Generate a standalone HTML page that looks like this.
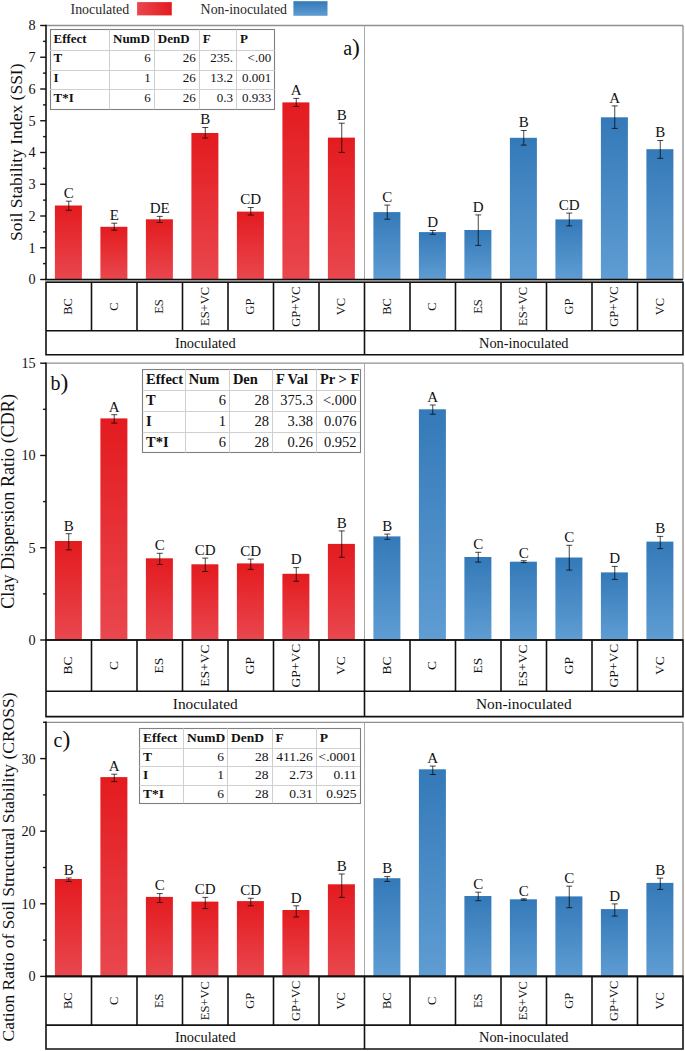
<!DOCTYPE html><html><head><meta charset="utf-8"><style>html,body{margin:0;padding:0;background:#fff;width:685px;height:1051px;overflow:hidden}svg{display:block}text{font-family:'Liberation Serif',serif;fill:#111}</style></head><body>
<svg width="685" height="1051" viewBox="0 0 685 1051">
<defs><linearGradient id="gr" x1="0" y1="0" x2="0" y2="1"><stop offset="0" stop-color="#E31B1F"/><stop offset="1" stop-color="#E9474E"/></linearGradient><linearGradient id="gb" x1="0" y1="0" x2="0" y2="1"><stop offset="0" stop-color="#3479B8"/><stop offset="1" stop-color="#5F9DD3"/></linearGradient><linearGradient id="grh" x1="0" y1="0" x2="1" y2="0"><stop offset="0" stop-color="#E9474E"/><stop offset="1" stop-color="#E31B1F"/></linearGradient></defs>
<rect width="685" height="1051" fill="#fff"/>
<text x="70.5" y="14" font-size="13.9" style="fill:#2a2a2a">Inoculated</text>
<rect x="137.1" y="2.1" width="34.7" height="13.3" fill="url(#grh)"/>
<text x="200.6" y="14" font-size="13.9" style="fill:#2a2a2a">Non-inoculated</text>
<rect x="293.4" y="1.2" width="34.1" height="14.6" fill="url(#gb)"/>
<line x1="46.0" y1="25.5" x2="683.0" y2="25.5" stroke="#8f8f8f" stroke-width="1.3"/>
<line x1="683.0" y1="25.5" x2="683.0" y2="279.5" stroke="#8f8f8f" stroke-width="1.3"/>
<line x1="364.5" y1="25.5" x2="364.5" y2="279.5" stroke="#aaaaaa" stroke-width="1"/>
<rect x="54.9" y="205.5" width="27.0" height="74" fill="url(#gr)"/>
<rect x="100.4" y="226.8" width="27.0" height="52.7" fill="url(#gr)"/>
<rect x="145.9" y="219.3" width="27.0" height="60.2" fill="url(#gr)"/>
<rect x="191.4" y="133" width="27.0" height="146.5" fill="url(#gr)"/>
<rect x="236.9" y="211.6" width="27.0" height="67.9" fill="url(#gr)"/>
<rect x="282.4" y="102.4" width="27.0" height="177.1" fill="url(#gr)"/>
<rect x="327.9" y="137.6" width="27.0" height="141.9" fill="url(#gr)"/>
<rect x="373.4" y="212.1" width="27.0" height="67.4" fill="url(#gb)"/>
<rect x="418.9" y="232.1" width="27.0" height="47.4" fill="url(#gb)"/>
<rect x="464.4" y="230" width="27.0" height="49.5" fill="url(#gb)"/>
<rect x="509.9" y="137.8" width="27.0" height="141.7" fill="url(#gb)"/>
<rect x="555.4" y="219.4" width="27.0" height="60.1" fill="url(#gb)"/>
<rect x="600.9" y="117.3" width="27.0" height="162.2" fill="url(#gb)"/>
<rect x="646.4" y="149.2" width="27.0" height="130.3" fill="url(#gb)"/>
<path d="M68.75 201.2V210.3M65.75 201.2H71.75M65.75 210.3H71.75" stroke="#000" stroke-opacity="0.72" stroke-width="1" fill="none"/>
<text x="68.75" y="198" font-size="15" text-anchor="middle">C</text>
<path d="M114.25 223.2V230.2M111.25 223.2H117.25M111.25 230.2H117.25" stroke="#000" stroke-opacity="0.72" stroke-width="1" fill="none"/>
<text x="114.25" y="220" font-size="15" text-anchor="middle">E</text>
<path d="M159.75 216.4V222.5M156.75 216.4H162.75M156.75 222.5H162.75" stroke="#000" stroke-opacity="0.72" stroke-width="1" fill="none"/>
<text x="159.75" y="213.2" font-size="15" text-anchor="middle">DE</text>
<path d="M205.25 127.5V138M202.25 127.5H208.25M202.25 138H208.25" stroke="#000" stroke-opacity="0.72" stroke-width="1" fill="none"/>
<text x="205.25" y="124.3" font-size="15" text-anchor="middle">B</text>
<path d="M250.75 207.5V215M247.75 207.5H253.75M247.75 215H253.75" stroke="#000" stroke-opacity="0.72" stroke-width="1" fill="none"/>
<text x="250.75" y="204.3" font-size="15" text-anchor="middle">CD</text>
<path d="M296.25 98.4V106.5M293.25 98.4H299.25M293.25 106.5H299.25" stroke="#000" stroke-opacity="0.72" stroke-width="1" fill="none"/>
<text x="296.25" y="95.2" font-size="15" text-anchor="middle">A</text>
<path d="M341.75 123.2V152.4M338.75 123.2H344.75M338.75 152.4H344.75" stroke="#000" stroke-opacity="0.72" stroke-width="1" fill="none"/>
<text x="341.75" y="120" font-size="15" text-anchor="middle">B</text>
<path d="M387.25 205.1V219.2M384.25 205.1H390.25M384.25 219.2H390.25" stroke="#000" stroke-opacity="0.72" stroke-width="1" fill="none"/>
<text x="387.25" y="201.9" font-size="15" text-anchor="middle">C</text>
<path d="M432.75 230.5V234.3M429.75 230.5H435.75M429.75 234.3H435.75" stroke="#000" stroke-opacity="0.72" stroke-width="1" fill="none"/>
<text x="432.75" y="227.3" font-size="15" text-anchor="middle">D</text>
<path d="M478.25 214.9V245.4M475.25 214.9H481.25M475.25 245.4H481.25" stroke="#000" stroke-opacity="0.72" stroke-width="1" fill="none"/>
<text x="478.25" y="211.7" font-size="15" text-anchor="middle">D</text>
<path d="M523.75 130.5V145.1M520.75 130.5H526.75M520.75 145.1H526.75" stroke="#000" stroke-opacity="0.72" stroke-width="1" fill="none"/>
<text x="523.75" y="127.3" font-size="15" text-anchor="middle">B</text>
<path d="M569.25 213.1V225.9M566.25 213.1H572.25M566.25 225.9H572.25" stroke="#000" stroke-opacity="0.72" stroke-width="1" fill="none"/>
<text x="569.25" y="209.9" font-size="15" text-anchor="middle">CD</text>
<path d="M614.75 105.9V128.4M611.75 105.9H617.75M611.75 128.4H617.75" stroke="#000" stroke-opacity="0.72" stroke-width="1" fill="none"/>
<text x="614.75" y="102.7" font-size="15" text-anchor="middle">A</text>
<path d="M660.25 140.5V158.3M657.25 140.5H663.25M657.25 158.3H663.25" stroke="#000" stroke-opacity="0.72" stroke-width="1" fill="none"/>
<text x="660.25" y="137.3" font-size="15" text-anchor="middle">B</text>
<line x1="46.0" y1="24.8" x2="46.0" y2="280.2" stroke="#111" stroke-width="1.6"/>
<line x1="40.2" y1="279.5" x2="46.0" y2="279.5" stroke="#111" stroke-width="1.4"/>
<text x="35.6" y="284.4" font-size="14.2" text-anchor="end">0</text>
<line x1="40.2" y1="247.75" x2="46.0" y2="247.75" stroke="#111" stroke-width="1.4"/>
<text x="35.6" y="252.65" font-size="14.2" text-anchor="end">1</text>
<line x1="40.2" y1="216" x2="46.0" y2="216" stroke="#111" stroke-width="1.4"/>
<text x="35.6" y="220.9" font-size="14.2" text-anchor="end">2</text>
<line x1="40.2" y1="184.25" x2="46.0" y2="184.25" stroke="#111" stroke-width="1.4"/>
<text x="35.6" y="189.15" font-size="14.2" text-anchor="end">3</text>
<line x1="40.2" y1="152.5" x2="46.0" y2="152.5" stroke="#111" stroke-width="1.4"/>
<text x="35.6" y="157.4" font-size="14.2" text-anchor="end">4</text>
<line x1="40.2" y1="120.75" x2="46.0" y2="120.75" stroke="#111" stroke-width="1.4"/>
<text x="35.6" y="125.65" font-size="14.2" text-anchor="end">5</text>
<line x1="40.2" y1="89" x2="46.0" y2="89" stroke="#111" stroke-width="1.4"/>
<text x="35.6" y="93.9" font-size="14.2" text-anchor="end">6</text>
<line x1="40.2" y1="57.25" x2="46.0" y2="57.25" stroke="#111" stroke-width="1.4"/>
<text x="35.6" y="62.15" font-size="14.2" text-anchor="end">7</text>
<line x1="40.2" y1="25.5" x2="46.0" y2="25.5" stroke="#111" stroke-width="1.4"/>
<text x="35.6" y="30.4" font-size="14.2" text-anchor="end">8</text>
<line x1="43.1" y1="263.62" x2="46.0" y2="263.62" stroke="#111" stroke-width="1.4"/>
<line x1="43.1" y1="231.88" x2="46.0" y2="231.88" stroke="#111" stroke-width="1.4"/>
<line x1="43.1" y1="200.12" x2="46.0" y2="200.12" stroke="#111" stroke-width="1.4"/>
<line x1="43.1" y1="168.38" x2="46.0" y2="168.38" stroke="#111" stroke-width="1.4"/>
<line x1="43.1" y1="136.62" x2="46.0" y2="136.62" stroke="#111" stroke-width="1.4"/>
<line x1="43.1" y1="104.88" x2="46.0" y2="104.88" stroke="#111" stroke-width="1.4"/>
<line x1="43.1" y1="73.12" x2="46.0" y2="73.12" stroke="#111" stroke-width="1.4"/>
<line x1="43.1" y1="41.38" x2="46.0" y2="41.38" stroke="#111" stroke-width="1.4"/>
<text transform="translate(22.2 152.2) rotate(-90)" x="0" y="0" font-size="17.5" text-anchor="middle">Soil Stability Index (SSI)</text>
<text x="343.2" y="55.2" font-size="20">a<tspan font-size="23.5">)</tspan></text>
<rect x="46.0" y="279.9" width="637.0" height="2.0999999999999885" fill="#bdbdbd"/>
<line x1="45.2" y1="279.5" x2="683.0" y2="279.5" stroke="#111" stroke-width="1.6"/>
<path d="M46.0 282.2H683.0V354.7H46.0Z" fill="none" stroke="#111" stroke-width="1.6"/>
<line x1="46.0" y1="330.8" x2="683.0" y2="330.8" stroke="#111" stroke-width="1.6"/>
<line x1="91.5" y1="282.2" x2="91.5" y2="330.8" stroke="#111" stroke-width="1.6"/>
<line x1="137" y1="282.2" x2="137" y2="330.8" stroke="#111" stroke-width="1.6"/>
<line x1="182.5" y1="282.2" x2="182.5" y2="330.8" stroke="#111" stroke-width="1.6"/>
<line x1="228" y1="282.2" x2="228" y2="330.8" stroke="#111" stroke-width="1.6"/>
<line x1="273.5" y1="282.2" x2="273.5" y2="330.8" stroke="#111" stroke-width="1.6"/>
<line x1="319" y1="282.2" x2="319" y2="330.8" stroke="#111" stroke-width="1.6"/>
<line x1="364.5" y1="282.2" x2="364.5" y2="354.7" stroke="#111" stroke-width="1.6"/>
<line x1="410" y1="282.2" x2="410" y2="330.8" stroke="#111" stroke-width="1.6"/>
<line x1="455.5" y1="282.2" x2="455.5" y2="330.8" stroke="#111" stroke-width="1.6"/>
<line x1="501" y1="282.2" x2="501" y2="330.8" stroke="#111" stroke-width="1.6"/>
<line x1="546.5" y1="282.2" x2="546.5" y2="330.8" stroke="#111" stroke-width="1.6"/>
<line x1="592" y1="282.2" x2="592" y2="330.8" stroke="#111" stroke-width="1.6"/>
<line x1="637.5" y1="282.2" x2="637.5" y2="330.8" stroke="#111" stroke-width="1.6"/>
<text transform="translate(72.45 306.5) rotate(-90)" font-size="12.5" text-anchor="middle">BC</text>
<text transform="translate(117.95 306.5) rotate(-90)" font-size="12.5" text-anchor="middle">C</text>
<text transform="translate(163.45 306.5) rotate(-90)" font-size="12.5" text-anchor="middle">ES</text>
<text transform="translate(208.95 306.5) rotate(-90)" font-size="12.5" text-anchor="middle">ES+VC</text>
<text transform="translate(254.45 306.5) rotate(-90)" font-size="12.5" text-anchor="middle">GP</text>
<text transform="translate(299.95 306.5) rotate(-90)" font-size="12.5" text-anchor="middle">GP+VC</text>
<text transform="translate(345.45 306.5) rotate(-90)" font-size="12.5" text-anchor="middle">VC</text>
<text transform="translate(390.95 306.5) rotate(-90)" font-size="12.5" text-anchor="middle">BC</text>
<text transform="translate(436.45 306.5) rotate(-90)" font-size="12.5" text-anchor="middle">C</text>
<text transform="translate(481.95 306.5) rotate(-90)" font-size="12.5" text-anchor="middle">ES</text>
<text transform="translate(527.45 306.5) rotate(-90)" font-size="12.5" text-anchor="middle">ES+VC</text>
<text transform="translate(572.95 306.5) rotate(-90)" font-size="12.5" text-anchor="middle">GP</text>
<text transform="translate(618.45 306.5) rotate(-90)" font-size="12.5" text-anchor="middle">GP+VC</text>
<text transform="translate(663.95 306.5) rotate(-90)" font-size="12.5" text-anchor="middle">VC</text>
<text x="205.25" y="347.6" font-size="14.4" text-anchor="middle">Inoculated</text>
<text x="523.75" y="347.6" font-size="14.4" text-anchor="middle">Non-inoculated</text>
<rect x="50.5" y="29.5" width="224.0" height="80.0" fill="#fff" stroke="#808080" stroke-width="1.1"/>
<line x1="50.0" y1="50.5" x2="274.7" y2="50.5" stroke="#cfcfcf" stroke-width="1"/>
<line x1="50.0" y1="70.5" x2="274.7" y2="70.5" stroke="#cfcfcf" stroke-width="1"/>
<line x1="50.0" y1="89.5" x2="274.7" y2="89.5" stroke="#cfcfcf" stroke-width="1"/>
<line x1="109.5" y1="29.5" x2="109.5" y2="109.3" stroke="#cfcfcf" stroke-width="1"/>
<line x1="154.5" y1="29.5" x2="154.5" y2="109.3" stroke="#cfcfcf" stroke-width="1"/>
<line x1="199.5" y1="29.5" x2="199.5" y2="109.3" stroke="#cfcfcf" stroke-width="1"/>
<line x1="236.5" y1="29.5" x2="236.5" y2="109.3" stroke="#cfcfcf" stroke-width="1"/>
<text x="53.5" y="42.9" font-size="13" font-weight="bold">Effect</text>
<text x="113" y="42.9" font-size="13" font-weight="bold">NumD</text>
<text x="157.8" y="42.9" font-size="13" font-weight="bold">DenD</text>
<text x="202.8" y="42.9" font-size="13" font-weight="bold">F</text>
<text x="239.9" y="42.9" font-size="13" font-weight="bold">P</text>
<text x="53.5" y="62.3" font-size="13" font-weight="bold">T</text>
<text x="150.8" y="62.3" font-size="13" text-anchor="end">6</text>
<text x="195.8" y="62.3" font-size="13" text-anchor="end">26</text>
<text x="232.9" y="62.3" font-size="13" text-anchor="end">235.</text>
<text x="271.2" y="62.3" font-size="13" text-anchor="end">&lt;.00</text>
<text x="53.5" y="81.9" font-size="13" font-weight="bold">I</text>
<text x="150.8" y="81.9" font-size="13" text-anchor="end">1</text>
<text x="195.8" y="81.9" font-size="13" text-anchor="end">26</text>
<text x="232.9" y="81.9" font-size="13" text-anchor="end">13.2</text>
<text x="271.2" y="81.9" font-size="13" text-anchor="end">0.001</text>
<text x="53.5" y="101.6" font-size="13" font-weight="bold">T*I</text>
<text x="150.8" y="101.6" font-size="13" text-anchor="end">6</text>
<text x="195.8" y="101.6" font-size="13" text-anchor="end">26</text>
<text x="232.9" y="101.6" font-size="13" text-anchor="end">0.3</text>
<text x="271.2" y="101.6" font-size="13" text-anchor="end">0.933</text>
<line x1="46.0" y1="363.2" x2="683.0" y2="363.2" stroke="#8f8f8f" stroke-width="1.3"/>
<line x1="683.0" y1="363.2" x2="683.0" y2="640.0" stroke="#8f8f8f" stroke-width="1.3"/>
<line x1="364.5" y1="363.2" x2="364.5" y2="640.0" stroke="#aaaaaa" stroke-width="1"/>
<rect x="54.9" y="541" width="27.0" height="99" fill="url(#gr)"/>
<rect x="100.4" y="418.4" width="27.0" height="221.6" fill="url(#gr)"/>
<rect x="145.9" y="558.3" width="27.0" height="81.7" fill="url(#gr)"/>
<rect x="191.4" y="564.3" width="27.0" height="75.7" fill="url(#gr)"/>
<rect x="236.9" y="563.4" width="27.0" height="76.6" fill="url(#gr)"/>
<rect x="282.4" y="573.8" width="27.0" height="66.2" fill="url(#gr)"/>
<rect x="327.9" y="543.9" width="27.0" height="96.1" fill="url(#gr)"/>
<rect x="373.4" y="536.4" width="27.0" height="103.6" fill="url(#gb)"/>
<rect x="418.9" y="409.3" width="27.0" height="230.7" fill="url(#gb)"/>
<rect x="464.4" y="557" width="27.0" height="83" fill="url(#gb)"/>
<rect x="509.9" y="561.7" width="27.0" height="78.3" fill="url(#gb)"/>
<rect x="555.4" y="557.5" width="27.0" height="82.5" fill="url(#gb)"/>
<rect x="600.9" y="572.4" width="27.0" height="67.6" fill="url(#gb)"/>
<rect x="646.4" y="541.6" width="27.0" height="98.4" fill="url(#gb)"/>
<path d="M68.75 533.7V549.9M65.75 533.7H71.75M65.75 549.9H71.75" stroke="#000" stroke-opacity="0.72" stroke-width="1" fill="none"/>
<text x="68.75" y="530.5" font-size="15" text-anchor="middle">B</text>
<path d="M114.25 414.7V423.1M111.25 414.7H117.25M111.25 423.1H117.25" stroke="#000" stroke-opacity="0.72" stroke-width="1" fill="none"/>
<text x="114.25" y="411.5" font-size="15" text-anchor="middle">A</text>
<path d="M159.75 553.3V564.5M156.75 553.3H162.75M156.75 564.5H162.75" stroke="#000" stroke-opacity="0.72" stroke-width="1" fill="none"/>
<text x="159.75" y="550.1" font-size="15" text-anchor="middle">C</text>
<path d="M205.25 558.1V571.5M202.25 558.1H208.25M202.25 571.5H208.25" stroke="#000" stroke-opacity="0.72" stroke-width="1" fill="none"/>
<text x="205.25" y="554.9" font-size="15" text-anchor="middle">CD</text>
<path d="M250.75 559.1V569.4M247.75 559.1H253.75M247.75 569.4H253.75" stroke="#000" stroke-opacity="0.72" stroke-width="1" fill="none"/>
<text x="250.75" y="555.9" font-size="15" text-anchor="middle">CD</text>
<path d="M296.25 567.6V581.3M293.25 567.6H299.25M293.25 581.3H299.25" stroke="#000" stroke-opacity="0.72" stroke-width="1" fill="none"/>
<text x="296.25" y="564.4" font-size="15" text-anchor="middle">D</text>
<path d="M341.75 530.9V557.3M338.75 530.9H344.75M338.75 557.3H344.75" stroke="#000" stroke-opacity="0.72" stroke-width="1" fill="none"/>
<text x="341.75" y="527.7" font-size="15" text-anchor="middle">B</text>
<path d="M387.25 534.1V539.3M384.25 534.1H390.25M384.25 539.3H390.25" stroke="#000" stroke-opacity="0.72" stroke-width="1" fill="none"/>
<text x="387.25" y="530.9" font-size="15" text-anchor="middle">B</text>
<path d="M432.75 405V414.2M429.75 405H435.75M429.75 414.2H435.75" stroke="#000" stroke-opacity="0.72" stroke-width="1" fill="none"/>
<text x="432.75" y="401.8" font-size="15" text-anchor="middle">A</text>
<path d="M478.25 552.3V562.1M475.25 552.3H481.25M475.25 562.1H481.25" stroke="#000" stroke-opacity="0.72" stroke-width="1" fill="none"/>
<text x="478.25" y="549.1" font-size="15" text-anchor="middle">C</text>
<path d="M523.75 560.7V562.6M520.75 560.7H526.75M520.75 562.6H526.75" stroke="#000" stroke-opacity="0.72" stroke-width="1" fill="none"/>
<text x="523.75" y="557.5" font-size="15" text-anchor="middle">C</text>
<path d="M569.25 545.3V570.1M566.25 545.3H572.25M566.25 570.1H572.25" stroke="#000" stroke-opacity="0.72" stroke-width="1" fill="none"/>
<text x="569.25" y="542.1" font-size="15" text-anchor="middle">C</text>
<path d="M614.75 566.4V579.4M611.75 566.4H617.75M611.75 579.4H617.75" stroke="#000" stroke-opacity="0.72" stroke-width="1" fill="none"/>
<text x="614.75" y="563.2" font-size="15" text-anchor="middle">D</text>
<path d="M660.25 536.4V548.6M657.25 536.4H663.25M657.25 548.6H663.25" stroke="#000" stroke-opacity="0.72" stroke-width="1" fill="none"/>
<text x="660.25" y="533.2" font-size="15" text-anchor="middle">B</text>
<line x1="46.0" y1="362.5" x2="46.0" y2="640.7" stroke="#111" stroke-width="1.6"/>
<line x1="40.2" y1="640" x2="46.0" y2="640" stroke="#111" stroke-width="1.4"/>
<text x="35.6" y="644.9" font-size="14.2" text-anchor="end">0</text>
<line x1="40.2" y1="547.73" x2="46.0" y2="547.73" stroke="#111" stroke-width="1.4"/>
<text x="35.6" y="552.63" font-size="14.2" text-anchor="end">5</text>
<line x1="40.2" y1="455.47" x2="46.0" y2="455.47" stroke="#111" stroke-width="1.4"/>
<text x="35.6" y="460.37" font-size="14.2" text-anchor="end">10</text>
<line x1="40.2" y1="363.2" x2="46.0" y2="363.2" stroke="#111" stroke-width="1.4"/>
<text x="35.6" y="368.1" font-size="14.2" text-anchor="end">15</text>
<line x1="43.1" y1="593.87" x2="46.0" y2="593.87" stroke="#111" stroke-width="1.4"/>
<line x1="43.1" y1="501.6" x2="46.0" y2="501.6" stroke="#111" stroke-width="1.4"/>
<line x1="43.1" y1="409.33" x2="46.0" y2="409.33" stroke="#111" stroke-width="1.4"/>
<text transform="translate(14.0 501.4) rotate(-90)" x="0" y="0" font-size="18.1" text-anchor="middle">Clay Dispersion Ratio (CDR)</text>
<text x="50.5" y="390.0" font-size="20">b<tspan font-size="23.5">)</tspan></text>
<line x1="45.2" y1="640.0" x2="683.0" y2="640.0" stroke="#111" stroke-width="1.6"/>
<path d="M46.0 640.0H683.0V716.6H46.0Z" fill="none" stroke="#111" stroke-width="1.6"/>
<line x1="46.0" y1="691.2" x2="683.0" y2="691.2" stroke="#111" stroke-width="1.6"/>
<line x1="91.5" y1="640.0" x2="91.5" y2="691.2" stroke="#111" stroke-width="1.6"/>
<line x1="137" y1="640.0" x2="137" y2="691.2" stroke="#111" stroke-width="1.6"/>
<line x1="182.5" y1="640.0" x2="182.5" y2="691.2" stroke="#111" stroke-width="1.6"/>
<line x1="228" y1="640.0" x2="228" y2="691.2" stroke="#111" stroke-width="1.6"/>
<line x1="273.5" y1="640.0" x2="273.5" y2="691.2" stroke="#111" stroke-width="1.6"/>
<line x1="319" y1="640.0" x2="319" y2="691.2" stroke="#111" stroke-width="1.6"/>
<line x1="364.5" y1="640.0" x2="364.5" y2="716.6" stroke="#111" stroke-width="1.6"/>
<line x1="410" y1="640.0" x2="410" y2="691.2" stroke="#111" stroke-width="1.6"/>
<line x1="455.5" y1="640.0" x2="455.5" y2="691.2" stroke="#111" stroke-width="1.6"/>
<line x1="501" y1="640.0" x2="501" y2="691.2" stroke="#111" stroke-width="1.6"/>
<line x1="546.5" y1="640.0" x2="546.5" y2="691.2" stroke="#111" stroke-width="1.6"/>
<line x1="592" y1="640.0" x2="592" y2="691.2" stroke="#111" stroke-width="1.6"/>
<line x1="637.5" y1="640.0" x2="637.5" y2="691.2" stroke="#111" stroke-width="1.6"/>
<text transform="translate(72.45 665.6) rotate(-90)" font-size="13.5" text-anchor="middle">BC</text>
<text transform="translate(117.95 665.6) rotate(-90)" font-size="13.5" text-anchor="middle">C</text>
<text transform="translate(163.45 665.6) rotate(-90)" font-size="13.5" text-anchor="middle">ES</text>
<text transform="translate(208.95 665.6) rotate(-90)" font-size="13.5" text-anchor="middle">ES+VC</text>
<text transform="translate(254.45 665.6) rotate(-90)" font-size="13.5" text-anchor="middle">GP</text>
<text transform="translate(299.95 665.6) rotate(-90)" font-size="13.5" text-anchor="middle">GP+VC</text>
<text transform="translate(345.45 665.6) rotate(-90)" font-size="13.5" text-anchor="middle">VC</text>
<text transform="translate(390.95 665.6) rotate(-90)" font-size="13.5" text-anchor="middle">BC</text>
<text transform="translate(436.45 665.6) rotate(-90)" font-size="13.5" text-anchor="middle">C</text>
<text transform="translate(481.95 665.6) rotate(-90)" font-size="13.5" text-anchor="middle">ES</text>
<text transform="translate(527.45 665.6) rotate(-90)" font-size="13.5" text-anchor="middle">ES+VC</text>
<text transform="translate(572.95 665.6) rotate(-90)" font-size="13.5" text-anchor="middle">GP</text>
<text transform="translate(618.45 665.6) rotate(-90)" font-size="13.5" text-anchor="middle">GP+VC</text>
<text transform="translate(663.95 665.6) rotate(-90)" font-size="13.5" text-anchor="middle">VC</text>
<text x="205.25" y="709.4" font-size="15.4" text-anchor="middle">Inoculated</text>
<text x="523.75" y="709.4" font-size="15.4" text-anchor="middle">Non-inoculated</text>
<rect x="142.5" y="369.5" width="218.0" height="83.0" fill="#fff" stroke="#808080" stroke-width="1.1"/>
<line x1="142.6" y1="390.5" x2="360.0" y2="390.5" stroke="#cfcfcf" stroke-width="1"/>
<line x1="142.6" y1="411.5" x2="360.0" y2="411.5" stroke="#cfcfcf" stroke-width="1"/>
<line x1="142.6" y1="432.5" x2="360.0" y2="432.5" stroke="#cfcfcf" stroke-width="1"/>
<line x1="185.5" y1="369.2" x2="185.5" y2="452.7" stroke="#cfcfcf" stroke-width="1"/>
<line x1="229.5" y1="369.2" x2="229.5" y2="452.7" stroke="#cfcfcf" stroke-width="1"/>
<line x1="272.5" y1="369.2" x2="272.5" y2="452.7" stroke="#cfcfcf" stroke-width="1"/>
<line x1="316.5" y1="369.2" x2="316.5" y2="452.7" stroke="#cfcfcf" stroke-width="1"/>
<text x="146.1" y="384.28" font-size="14.5" font-weight="bold">Effect</text>
<text x="188.8" y="384.28" font-size="14.5" font-weight="bold">Num</text>
<text x="232.9" y="384.28" font-size="14.5" font-weight="bold">Den</text>
<text x="275.9" y="384.28" font-size="14.5" font-weight="bold">F Val</text>
<text x="319.9" y="384.28" font-size="14.5" font-weight="bold">Pr &gt; F</text>
<text x="146.1" y="405.48" font-size="14.5" font-weight="bold">T</text>
<text x="225.9" y="405.48" font-size="14.5" text-anchor="end">6</text>
<text x="268.9" y="405.48" font-size="14.5" text-anchor="end">28</text>
<text x="312.9" y="405.48" font-size="14.5" text-anchor="end">375.3</text>
<text x="356.5" y="405.48" font-size="14.5" text-anchor="end">&lt;.000</text>
<text x="146.1" y="426.18" font-size="14.5" font-weight="bold">I</text>
<text x="225.9" y="426.18" font-size="14.5" text-anchor="end">1</text>
<text x="268.9" y="426.18" font-size="14.5" text-anchor="end">28</text>
<text x="312.9" y="426.18" font-size="14.5" text-anchor="end">3.38</text>
<text x="356.5" y="426.18" font-size="14.5" text-anchor="end">0.076</text>
<text x="146.1" y="446.93" font-size="14.5" font-weight="bold">T*I</text>
<text x="225.9" y="446.93" font-size="14.5" text-anchor="end">6</text>
<text x="268.9" y="446.93" font-size="14.5" text-anchor="end">28</text>
<text x="312.9" y="446.93" font-size="14.5" text-anchor="end">0.26</text>
<text x="356.5" y="446.93" font-size="14.5" text-anchor="end">0.952</text>
<line x1="46.0" y1="722.3" x2="683.0" y2="722.3" stroke="#8f8f8f" stroke-width="1.3"/>
<line x1="683.0" y1="722.3" x2="683.0" y2="976.4" stroke="#8f8f8f" stroke-width="1.3"/>
<line x1="364.5" y1="722.3" x2="364.5" y2="976.4" stroke="#aaaaaa" stroke-width="1"/>
<rect x="54.9" y="879" width="27.0" height="97.4" fill="url(#gr)"/>
<rect x="100.4" y="777.1" width="27.0" height="199.3" fill="url(#gr)"/>
<rect x="145.9" y="896.9" width="27.0" height="79.5" fill="url(#gr)"/>
<rect x="191.4" y="901.6" width="27.0" height="74.8" fill="url(#gr)"/>
<rect x="236.9" y="901.1" width="27.0" height="75.3" fill="url(#gr)"/>
<rect x="282.4" y="910" width="27.0" height="66.4" fill="url(#gr)"/>
<rect x="327.9" y="884.3" width="27.0" height="92.1" fill="url(#gr)"/>
<rect x="373.4" y="878.2" width="27.0" height="98.2" fill="url(#gb)"/>
<rect x="418.9" y="769.3" width="27.0" height="207.1" fill="url(#gb)"/>
<rect x="464.4" y="896" width="27.0" height="80.4" fill="url(#gb)"/>
<rect x="509.9" y="899.3" width="27.0" height="77.1" fill="url(#gb)"/>
<rect x="555.4" y="896.4" width="27.0" height="80" fill="url(#gb)"/>
<rect x="600.9" y="909.1" width="27.0" height="67.3" fill="url(#gb)"/>
<rect x="646.4" y="882.9" width="27.0" height="93.5" fill="url(#gb)"/>
<path d="M68.75 878V881.5M65.75 878H71.75M65.75 881.5H71.75" stroke="#000" stroke-opacity="0.72" stroke-width="1" fill="none"/>
<text x="68.75" y="874.8" font-size="15" text-anchor="middle">B</text>
<path d="M114.25 774.2V781.6M111.25 774.2H117.25M111.25 781.6H117.25" stroke="#000" stroke-opacity="0.72" stroke-width="1" fill="none"/>
<text x="114.25" y="771" font-size="15" text-anchor="middle">A</text>
<path d="M159.75 893.6V902.5M156.75 893.6H162.75M156.75 902.5H162.75" stroke="#000" stroke-opacity="0.72" stroke-width="1" fill="none"/>
<text x="159.75" y="890.4" font-size="15" text-anchor="middle">C</text>
<path d="M205.25 897.4V908.6M202.25 897.4H208.25M202.25 908.6H208.25" stroke="#000" stroke-opacity="0.72" stroke-width="1" fill="none"/>
<text x="205.25" y="894.2" font-size="15" text-anchor="middle">CD</text>
<path d="M250.75 898.3V905.8M247.75 898.3H253.75M247.75 905.8H253.75" stroke="#000" stroke-opacity="0.72" stroke-width="1" fill="none"/>
<text x="250.75" y="895.1" font-size="15" text-anchor="middle">CD</text>
<path d="M296.25 905.8V917M293.25 905.8H299.25M293.25 917H299.25" stroke="#000" stroke-opacity="0.72" stroke-width="1" fill="none"/>
<text x="296.25" y="902.6" font-size="15" text-anchor="middle">D</text>
<path d="M341.75 874V897.4M338.75 874H344.75M338.75 897.4H344.75" stroke="#000" stroke-opacity="0.72" stroke-width="1" fill="none"/>
<text x="341.75" y="870.8" font-size="15" text-anchor="middle">B</text>
<path d="M387.25 876.6V881.4M384.25 876.6H390.25M384.25 881.4H390.25" stroke="#000" stroke-opacity="0.72" stroke-width="1" fill="none"/>
<text x="387.25" y="873.4" font-size="15" text-anchor="middle">B</text>
<path d="M432.75 766.1V774.5M429.75 766.1H435.75M429.75 774.5H435.75" stroke="#000" stroke-opacity="0.72" stroke-width="1" fill="none"/>
<text x="432.75" y="762.9" font-size="15" text-anchor="middle">A</text>
<path d="M478.25 892.2V900.7M475.25 892.2H481.25M475.25 900.7H481.25" stroke="#000" stroke-opacity="0.72" stroke-width="1" fill="none"/>
<text x="478.25" y="889" font-size="15" text-anchor="middle">C</text>
<path d="M523.75 898.8V900.2M520.75 898.8H526.75M520.75 900.2H526.75" stroke="#000" stroke-opacity="0.72" stroke-width="1" fill="none"/>
<text x="523.75" y="895.6" font-size="15" text-anchor="middle">C</text>
<path d="M569.25 886.2V907.7M566.25 886.2H572.25M566.25 907.7H572.25" stroke="#000" stroke-opacity="0.72" stroke-width="1" fill="none"/>
<text x="569.25" y="883" font-size="15" text-anchor="middle">C</text>
<path d="M614.75 903.9V916.1M611.75 903.9H617.75M611.75 916.1H617.75" stroke="#000" stroke-opacity="0.72" stroke-width="1" fill="none"/>
<text x="614.75" y="900.7" font-size="15" text-anchor="middle">D</text>
<path d="M660.25 878.2V889.4M657.25 878.2H663.25M657.25 889.4H663.25" stroke="#000" stroke-opacity="0.72" stroke-width="1" fill="none"/>
<text x="660.25" y="875" font-size="15" text-anchor="middle">B</text>
<line x1="46.0" y1="721.5999999999999" x2="46.0" y2="977.1" stroke="#111" stroke-width="1.6"/>
<line x1="40.2" y1="976.4" x2="46.0" y2="976.4" stroke="#111" stroke-width="1.4"/>
<text x="35.6" y="981.3" font-size="14.2" text-anchor="end">0</text>
<line x1="40.2" y1="903.8" x2="46.0" y2="903.8" stroke="#111" stroke-width="1.4"/>
<text x="35.6" y="908.7" font-size="14.2" text-anchor="end">10</text>
<line x1="40.2" y1="831.2" x2="46.0" y2="831.2" stroke="#111" stroke-width="1.4"/>
<text x="35.6" y="836.1" font-size="14.2" text-anchor="end">20</text>
<line x1="40.2" y1="758.6" x2="46.0" y2="758.6" stroke="#111" stroke-width="1.4"/>
<text x="35.6" y="763.5" font-size="14.2" text-anchor="end">30</text>
<line x1="43.1" y1="940.1" x2="46.0" y2="940.1" stroke="#111" stroke-width="1.4"/>
<line x1="43.1" y1="867.5" x2="46.0" y2="867.5" stroke="#111" stroke-width="1.4"/>
<line x1="43.1" y1="794.9" x2="46.0" y2="794.9" stroke="#111" stroke-width="1.4"/>
<line x1="43.1" y1="722.3" x2="46.0" y2="722.3" stroke="#111" stroke-width="1.4"/>
<text transform="translate(14.3 867.0) rotate(-90)" x="0" y="0" font-size="17.5" text-anchor="middle">Cation Ratio of Soil Structural Stability (CROSS)</text>
<text x="53.6" y="747.0" font-size="20">c<tspan font-size="23.5">)</tspan></text>
<line x1="45.2" y1="976.4" x2="683.0" y2="976.4" stroke="#111" stroke-width="1.6"/>
<path d="M46.0 976.4H683.0V1049.0H46.0Z" fill="none" stroke="#111" stroke-width="1.6"/>
<line x1="46.0" y1="1025.1" x2="683.0" y2="1025.1" stroke="#111" stroke-width="1.6"/>
<line x1="91.5" y1="976.4" x2="91.5" y2="1025.1" stroke="#111" stroke-width="1.6"/>
<line x1="137" y1="976.4" x2="137" y2="1025.1" stroke="#111" stroke-width="1.6"/>
<line x1="182.5" y1="976.4" x2="182.5" y2="1025.1" stroke="#111" stroke-width="1.6"/>
<line x1="228" y1="976.4" x2="228" y2="1025.1" stroke="#111" stroke-width="1.6"/>
<line x1="273.5" y1="976.4" x2="273.5" y2="1025.1" stroke="#111" stroke-width="1.6"/>
<line x1="319" y1="976.4" x2="319" y2="1025.1" stroke="#111" stroke-width="1.6"/>
<line x1="364.5" y1="976.4" x2="364.5" y2="1049.0" stroke="#111" stroke-width="1.6"/>
<line x1="410" y1="976.4" x2="410" y2="1025.1" stroke="#111" stroke-width="1.6"/>
<line x1="455.5" y1="976.4" x2="455.5" y2="1025.1" stroke="#111" stroke-width="1.6"/>
<line x1="501" y1="976.4" x2="501" y2="1025.1" stroke="#111" stroke-width="1.6"/>
<line x1="546.5" y1="976.4" x2="546.5" y2="1025.1" stroke="#111" stroke-width="1.6"/>
<line x1="592" y1="976.4" x2="592" y2="1025.1" stroke="#111" stroke-width="1.6"/>
<line x1="637.5" y1="976.4" x2="637.5" y2="1025.1" stroke="#111" stroke-width="1.6"/>
<text transform="translate(72.45 1000.75) rotate(-90)" font-size="12.5" text-anchor="middle">BC</text>
<text transform="translate(117.95 1000.75) rotate(-90)" font-size="12.5" text-anchor="middle">C</text>
<text transform="translate(163.45 1000.75) rotate(-90)" font-size="12.5" text-anchor="middle">ES</text>
<text transform="translate(208.95 1000.75) rotate(-90)" font-size="12.5" text-anchor="middle">ES+VC</text>
<text transform="translate(254.45 1000.75) rotate(-90)" font-size="12.5" text-anchor="middle">GP</text>
<text transform="translate(299.95 1000.75) rotate(-90)" font-size="12.5" text-anchor="middle">GP+VC</text>
<text transform="translate(345.45 1000.75) rotate(-90)" font-size="12.5" text-anchor="middle">VC</text>
<text transform="translate(390.95 1000.75) rotate(-90)" font-size="12.5" text-anchor="middle">BC</text>
<text transform="translate(436.45 1000.75) rotate(-90)" font-size="12.5" text-anchor="middle">C</text>
<text transform="translate(481.95 1000.75) rotate(-90)" font-size="12.5" text-anchor="middle">ES</text>
<text transform="translate(527.45 1000.75) rotate(-90)" font-size="12.5" text-anchor="middle">ES+VC</text>
<text transform="translate(572.95 1000.75) rotate(-90)" font-size="12.5" text-anchor="middle">GP</text>
<text transform="translate(618.45 1000.75) rotate(-90)" font-size="12.5" text-anchor="middle">GP+VC</text>
<text transform="translate(663.95 1000.75) rotate(-90)" font-size="12.5" text-anchor="middle">VC</text>
<text x="205.25" y="1042.3" font-size="14.4" text-anchor="middle">Inoculated</text>
<text x="523.75" y="1042.3" font-size="14.4" text-anchor="middle">Non-inoculated</text>
<rect x="139.5" y="728.5" width="221.0" height="75.0" fill="#fff" stroke="#808080" stroke-width="1.1"/>
<line x1="139.4" y1="748.5" x2="360.1" y2="748.5" stroke="#cfcfcf" stroke-width="1"/>
<line x1="139.4" y1="766.5" x2="360.1" y2="766.5" stroke="#cfcfcf" stroke-width="1"/>
<line x1="139.4" y1="785.5" x2="360.1" y2="785.5" stroke="#cfcfcf" stroke-width="1"/>
<line x1="183.5" y1="728.3" x2="183.5" y2="803.3" stroke="#cfcfcf" stroke-width="1"/>
<line x1="227.5" y1="728.3" x2="227.5" y2="803.3" stroke="#cfcfcf" stroke-width="1"/>
<line x1="272.5" y1="728.3" x2="272.5" y2="803.3" stroke="#cfcfcf" stroke-width="1"/>
<line x1="316.5" y1="728.3" x2="316.5" y2="803.3" stroke="#cfcfcf" stroke-width="1"/>
<text x="142.9" y="741.89" font-size="13.5" font-weight="bold">Effect</text>
<text x="186.9" y="741.89" font-size="13.5" font-weight="bold">NumD</text>
<text x="231" y="741.89" font-size="13.5" font-weight="bold">DenD</text>
<text x="275.6" y="741.89" font-size="13.5" font-weight="bold">F</text>
<text x="319.8" y="741.89" font-size="13.5" font-weight="bold">P</text>
<text x="142.9" y="760.59" font-size="13.5" font-weight="bold">T</text>
<text x="224" y="760.59" font-size="13.5" text-anchor="end">6</text>
<text x="268.6" y="760.59" font-size="13.5" text-anchor="end">28</text>
<text x="312.8" y="760.59" font-size="13.5" text-anchor="end">411.26</text>
<text x="356.6" y="760.59" font-size="13.5" text-anchor="end">&lt;.0001</text>
<text x="142.9" y="779.19" font-size="13.5" font-weight="bold">I</text>
<text x="224" y="779.19" font-size="13.5" text-anchor="end">1</text>
<text x="268.6" y="779.19" font-size="13.5" text-anchor="end">28</text>
<text x="312.8" y="779.19" font-size="13.5" text-anchor="end">2.73</text>
<text x="356.6" y="779.19" font-size="13.5" text-anchor="end">0.11</text>
<text x="142.9" y="797.64" font-size="13.5" font-weight="bold">T*I</text>
<text x="224" y="797.64" font-size="13.5" text-anchor="end">6</text>
<text x="268.6" y="797.64" font-size="13.5" text-anchor="end">28</text>
<text x="312.8" y="797.64" font-size="13.5" text-anchor="end">0.31</text>
<text x="356.6" y="797.64" font-size="13.5" text-anchor="end">0.925</text>
</svg></body></html>
